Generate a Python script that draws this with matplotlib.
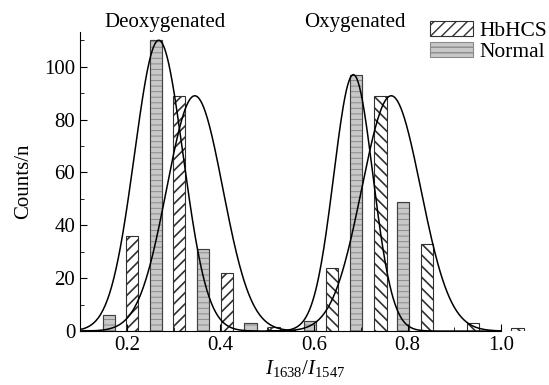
import numpy as np
import matplotlib.pyplot as plt
from matplotlib.ticker import MultipleLocator

plt.rcParams.update({'font.size': 15, 'font.family': 'Liberation Serif',
                     'mathtext.fontset': 'custom',
                     'mathtext.rm': 'Liberation Serif',
                     'mathtext.it': 'Liberation Serif:italic'})

# histogram bars (bin centre, count)
deoxy_hb_x = [0.117, 0.211, 0.312, 0.414, 0.515]
deoxy_hb_y = [0.5, 36, 89, 22, 1.5]
deoxy_nm_x = [0.162, 0.263, 0.363, 0.464]
deoxy_nm_y = [6, 110, 31, 3]
oxy_hb_x = [0.639, 0.742, 0.842, 0.940, 1.035]
oxy_hb_y = [24, 89, 33, 3, 1]
oxy_nm_x = [0.592, 0.690, 0.791]
oxy_nm_y = [4, 97, 49]

# gaussian fits: (amplitude, centre, sigma)
fit_deoxy_nm = (110, 0.268, 0.052)
fit_deoxy_hb = (89, 0.345, 0.060)
fit_oxy_nm = (97, 0.684, 0.042)
fit_oxy_hb = (89, 0.765, 0.063)

w = 0.026
hb_kw = dict(width=w, color='white', edgecolor='#303030', linewidth=0.8)
nm_kw = dict(width=w, color='#c8c8c8', edgecolor='#8a8a8a', linewidth=0.8)

fig = plt.figure(figsize=(5.49, 3.85), dpi=100)
ax = fig.add_axes([0.146, 0.140, 0.818, 0.776])

with plt.rc_context({'hatch.linewidth': 1.2}):
    ax.bar(deoxy_hb_x, deoxy_hb_y, hatch='///', label='HbHCS', **hb_kw)
    ax.bar(oxy_hb_x, oxy_hb_y, hatch='\\\\\\', **hb_kw)
with plt.rc_context({'hatch.linewidth': 0.7}):
    ax.bar(deoxy_nm_x, deoxy_nm_y, hatch='---', label='Normal', **nm_kw)
    ax.bar(oxy_nm_x, oxy_nm_y, hatch='---', **nm_kw)
# darker outline for the normal bars
ax.bar(deoxy_nm_x, deoxy_nm_y, width=w, fill=False, edgecolor='#404040', linewidth=0.8)
ax.bar(oxy_nm_x, oxy_nm_y, width=w, fill=False, edgecolor='#404040', linewidth=0.8)

def gauss(x, a, c, s):
    return a * np.exp(-(x - c) ** 2 / (2 * s ** 2))

xl = np.linspace(0.1, 0.56, 300)
xr = np.linspace(0.50, 1.0, 300)
for p in (fit_deoxy_nm, fit_deoxy_hb):
    ax.plot(xl, gauss(xl, *p), color='black', lw=1.1)
for p in (fit_oxy_nm, fit_oxy_hb):
    ax.plot(xr, gauss(xr, *p), color='black', lw=1.1)

ax.set_xlim(0.1, 1.06)
ax.set_ylim(0, 113)
ax.spines['top'].set_visible(False)
ax.spines['right'].set_visible(False)
ax.spines['bottom'].set_bounds(0.1, 1.0)
ax.set_xticks([0.2, 0.4, 0.6, 0.8, 1.0])
ax.set_xticklabels(['0.2', '0.4', '0.6', '0.8', '1.0'])
ax.set_xticks([0.1, 0.3, 0.5, 0.7, 0.9], minor=True)
ax.yaxis.set_major_locator(MultipleLocator(20))
ax.yaxis.set_minor_locator(MultipleLocator(10))
ax.tick_params(which='both', direction='in')
ax.tick_params(which='major', length=5)
ax.tick_params(which='minor', length=3)

ax.set_xlabel('$I_{1638}/I_{1547}$', labelpad=2)
ax.set_ylabel('Counts/n', labelpad=8)

fig.text(165 / 549, 1 - 22 / 385, 'Deoxygenated', ha='center', va='center')
fig.text(355 / 549, 1 - 22 / 385, 'Oxygenated', ha='center', va='center')

ax.legend(loc='upper right', bbox_to_anchor=(1.02, 0.98),
          bbox_transform=fig.transFigure, frameon=False, fontsize=15.5,
          handlelength=2.0, handleheight=0.7, labelspacing=0.05,
          borderaxespad=0.2, handletextpad=0.3)

fig.savefig('out.png', dpi=100)
